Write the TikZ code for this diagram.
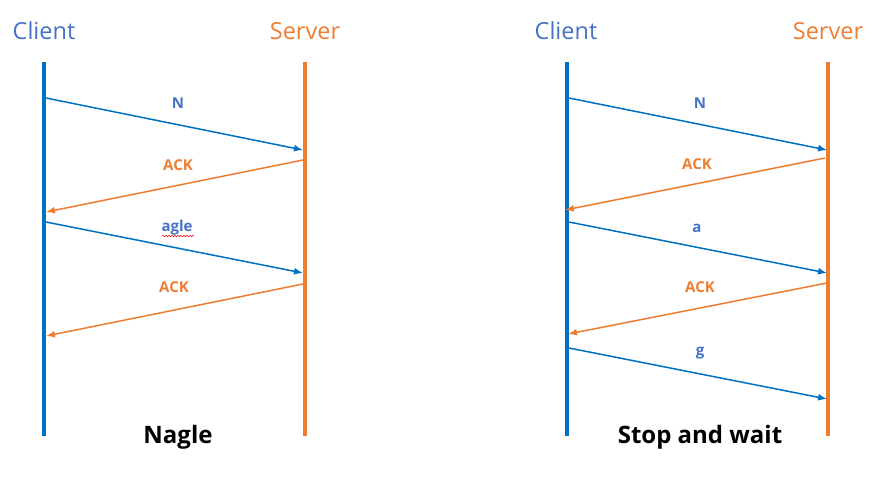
\documentclass[tikz,border=0pt]{standalone}
\usepackage{fontspec}
\setmainfont{Open Sans}
\usetikzlibrary{arrows.meta,decorations.pathmorphing}
\definecolor{lineblue}{HTML}{0070C0}
\definecolor{textblue}{HTML}{4472C4}
\definecolor{orng}{HTML}{ED7D31}
\tikzset{
  head/.style={font=\fontsize{23.5}{26}\selectfont},
  life/.style={line width=3.5pt},
  msg/.style={line width=1.5pt,-{Latex[length=9pt,width=7pt]}},
  lbl/.style={font=\bfseries\fontsize{15}{17}\selectfont},
  title/.style={font=\bfseries\fontsize{24}{26}\selectfont}
}
\begin{document}
\begin{tikzpicture}[x=1pt,y=-1pt]
  \useasboundingbox (0,0) rectangle (878,480);

  % Nagle
  \node[head,textblue] (cl1) at (44,31) {Client};
  \node[head,orng] (sv1) at (305,31) {Server};
  \coordinate (cl1t) at (44,62);  \coordinate (cl1b) at (44,436);
  \coordinate (sv1t) at (305,62); \coordinate (sv1b) at (305,436);
  \draw[life,lineblue] (cl1t) -- (cl1b);
  \draw[life,orng] (sv1t) -- (sv1b);

  \coordinate (a1) at (46,98);   \coordinate (b1) at (303,150);
  \coordinate (a2) at (303,160); \coordinate (b2) at (46,212);
  \coordinate (a3) at (46,222);  \coordinate (b3) at (303,273);
  \coordinate (a4) at (303,284); \coordinate (b4) at (46,336);
  \draw[msg,lineblue] (a1) -- (b1);
  \draw[msg,orng] (a2) -- (b2);
  \draw[msg,lineblue] (a3) -- (b3);
  \draw[msg,orng] (a4) -- (b4);
  \node[lbl,textblue] (n1) at (178,103) {N};
  \node[lbl,orng] (k1) at (178,165) {ACK};
  \node[lbl,textblue] (g1) at (177,228) {agle};
  \draw[red,line width=0.5pt,decorate,decoration={snake,amplitude=0.8pt,segment length=3pt}]
    (g1.south west) ++(4,-3) -- ++(32,0);
  \node[lbl,orng] (k2) at (174,287) {ACK};
  \node[title] (nagle) at (178,437) {Nagle};

  % Stop and wait
  \node[head,textblue] (cl2) at (566,31) {Client};
  \node[head,orng] (sv2) at (828,31) {Server};
  \coordinate (cl2t) at (567,62);  \coordinate (cl2b) at (567,436);
  \coordinate (sv2t) at (828,62);  \coordinate (sv2b) at (828,436);
  \draw[life,lineblue] (cl2t) -- (cl2b);
  \draw[life,orng] (sv2t) -- (sv2b);

  \coordinate (c1) at (569,98);  \coordinate (d1) at (827,150);
  \coordinate (c2) at (825,158); \coordinate (d2) at (565,210);
  \coordinate (c3) at (569,222); \coordinate (d3) at (827,273);
  \coordinate (c4) at (827,283); \coordinate (d4) at (568,334);
  \coordinate (c5) at (569,348); \coordinate (d5) at (827,399);
  \draw[msg,lineblue] (c1) -- (d1);
  \draw[msg,orng] (c2) -- (d2);
  \draw[msg,lineblue] (c3) -- (d3);
  \draw[msg,orng] (c4) -- (d4);
  \draw[msg,lineblue] (c5) -- (d5);
  \node[lbl,textblue] (n2) at (700,103) {N};
  \node[lbl,orng] (k3) at (697,164) {ACK};
  \node[lbl,textblue] (la) at (697,228) {a};
  \node[lbl,orng] (k4) at (700,287) {ACK};
  \node[lbl,textblue] (lg) at (700,353) {g};
  \node[title] (sw) at (700,437) {Stop and wait};
\end{tikzpicture}
\end{document}
